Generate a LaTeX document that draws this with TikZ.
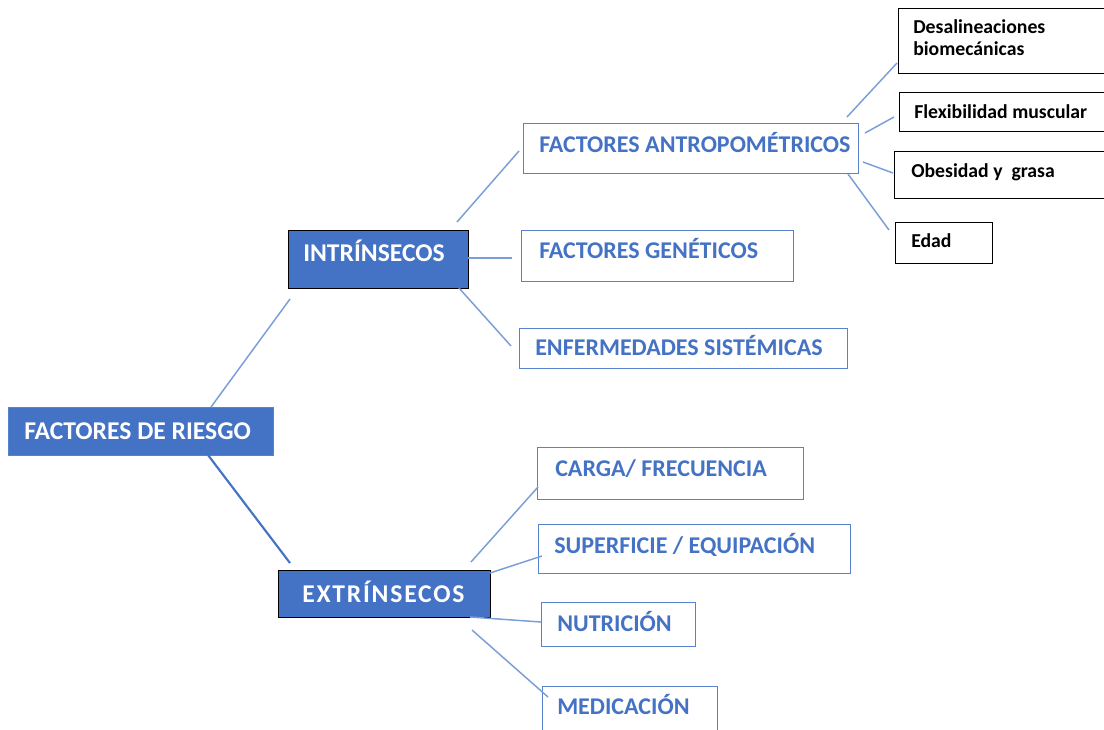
\documentclass[tikz,border=0pt]{standalone}
\usepackage{fontspec}
\setmainfont{Carlito}
\definecolor{mblue}{RGB}{68,114,196}
\definecolor{lblue}{RGB}{122,158,216}
\definecolor{bblue}{RGB}{88,130,205}
\newcommand\mybox[6]{\node[#6, anchor=north west, minimum width={(#4-#2)*0.75pt}, minimum height={(#5-#3)*0.75pt}, inner sep=0pt] (#1) at (#2,#3) {};}
\tikzset{
  fillbox/.style={draw=bblue, fill=mblue, line width=1.1pt},
  darkbox/.style={draw=black, fill=mblue, line width=1.1pt},
  outbox/.style={draw=bblue, line width=1.1pt},
  blkbox/.style={draw=black, line width=1pt},
  wtxt/.style={anchor=base west, inner sep=0pt, text=white, font=\bfseries\fontsize{19.2}{23}\selectfont},
  btxt/.style={anchor=base west, inner sep=0pt, text=mblue, font=\bfseries\fontsize{18}{21}\selectfont},
  ktxt/.style={anchor=base west, inner sep=0pt, text=black, font=\bfseries\fontsize{14.8}{16.5}\selectfont},
  conn/.style={draw=lblue, line width=1.1pt},
  connd/.style={draw=mblue, line width=1.6pt},
}
\begin{document}
\begin{tikzpicture}[x=0.75pt,y=-0.75pt]
\useasboundingbox (0,0) rectangle (1104,729);
\clip (0,0) rectangle (1104,729);
\fill[white] (0,0) rectangle (1104,729);
% boxes
\mybox{fr}{8}{407}{273}{455}{fillbox}
\mybox{intr}{288}{230}{468}{288}{darkbox}
\mybox{extr}{278}{570}{490}{617}{darkbox}
\mybox{antr}{523}{123}{858}{173}{outbox}
\mybox{gene}{521}{230}{793}{281}{outbox}
\mybox{enfe}{519}{328}{847}{368}{outbox}
\mybox{carg}{537}{447}{803}{499}{outbox}
\mybox{supe}{538}{524}{850}{573}{outbox}
\mybox{nutr}{541}{602}{695}{646}{outbox}
\mybox{medi}{542}{686}{717}{745}{outbox}
\mybox{desa}{898}{8}{1115}{73}{blkbox}
\mybox{flex}{899}{92}{1115}{131}{blkbox}
\mybox{obes}{894}{151}{1115}{198}{blkbox}
\mybox{edad}{895}{222}{992}{263}{blkbox}
% texts
\node[wtxt] (frt) at (24,439) {FACTORES DE RIESGO};
\node[wtxt] (intrt) at (303,261) {INTRÍNSECOS};
\node[wtxt] (extrt) at (302,602) {\addfontfeature{LetterSpace=7}EXTRÍNSECOS};
\node[btxt] (antrt) at (539,152) {FACTORES ANTROPOMÉTRICOS};
\node[btxt] (genet) at (539,258) {FACTORES GENÉTICOS};
\node[btxt] (enfet) at (535,355) {ENFERMEDADES SISTÉMICAS};
\node[btxt] (cargt) at (555,476) {CARGA/ FRECUENCIA};
\node[btxt] (supet) at (554,553) {SUPERFICIE / EQUIPACIÓN};
\node[btxt] (nutrt) at (557,631) {NUTRICIÓN};
\node[btxt] (medit) at (557,714) {MEDICACIÓN};
\node[ktxt] (desat) at (913,33) {Desalineaciones};
\node[ktxt] (desat2) at (913,55) {biomecánicas};
\node[ktxt] (flext) at (914,118) {Flexibilidad muscular};
\node[ktxt] (obest) at (911,177) {Obesidad y~ grasa};
\node[ktxt] (edadt) at (911,247) {Edad};
% connector end points
\coordinate (c1a) at (211,407); \coordinate (c1b) at (290,299);
\coordinate (c2a) at (208,455); \coordinate (c2b) at (290,563);
\coordinate (c3a) at (457,222); \coordinate (c3b) at (519,151);
\coordinate (c4a) at (468,258); \coordinate (c4b) at (512,258);
\coordinate (c5a) at (459,288); \coordinate (c5b) at (511,346);
\coordinate (c6a) at (471,562); \coordinate (c6b) at (538,487);
\coordinate (c7a) at (490,573); \coordinate (c7b) at (542,556);
\coordinate (c8a) at (470,617); \coordinate (c8b) at (541,622);
\coordinate (c9a) at (472,630); \coordinate (c9b) at (548,697);
\coordinate (d1a) at (847,117); \coordinate (d1b) at (897,63);
\coordinate (d2a) at (865,133); \coordinate (d2b) at (894,117);
\coordinate (d3a) at (863,162); \coordinate (d3b) at (893,173);
\coordinate (d4a) at (848,174); \coordinate (d4b) at (889,230);
% connectors
\draw[conn] (c1a) -- (c1b);
\draw[connd] (c2a) -- (c2b);
\draw[conn] (c3a) -- (c3b);
\draw[conn] (c4a) -- (c4b);
\draw[conn] (c5a) -- (c5b);
\draw[conn] (c6a) -- (c6b);
\draw[conn] (c7a) -- (c7b);
\draw[conn] (c8a) -- (c8b);
\draw[conn] (c9a) -- (c9b);
\draw[conn] (d1a) -- (d1b);
\draw[conn] (d2a) -- (d2b);
\draw[conn] (d3a) -- (d3b);
\draw[conn] (d4a) -- (d4b);
\end{tikzpicture}
\end{document}
